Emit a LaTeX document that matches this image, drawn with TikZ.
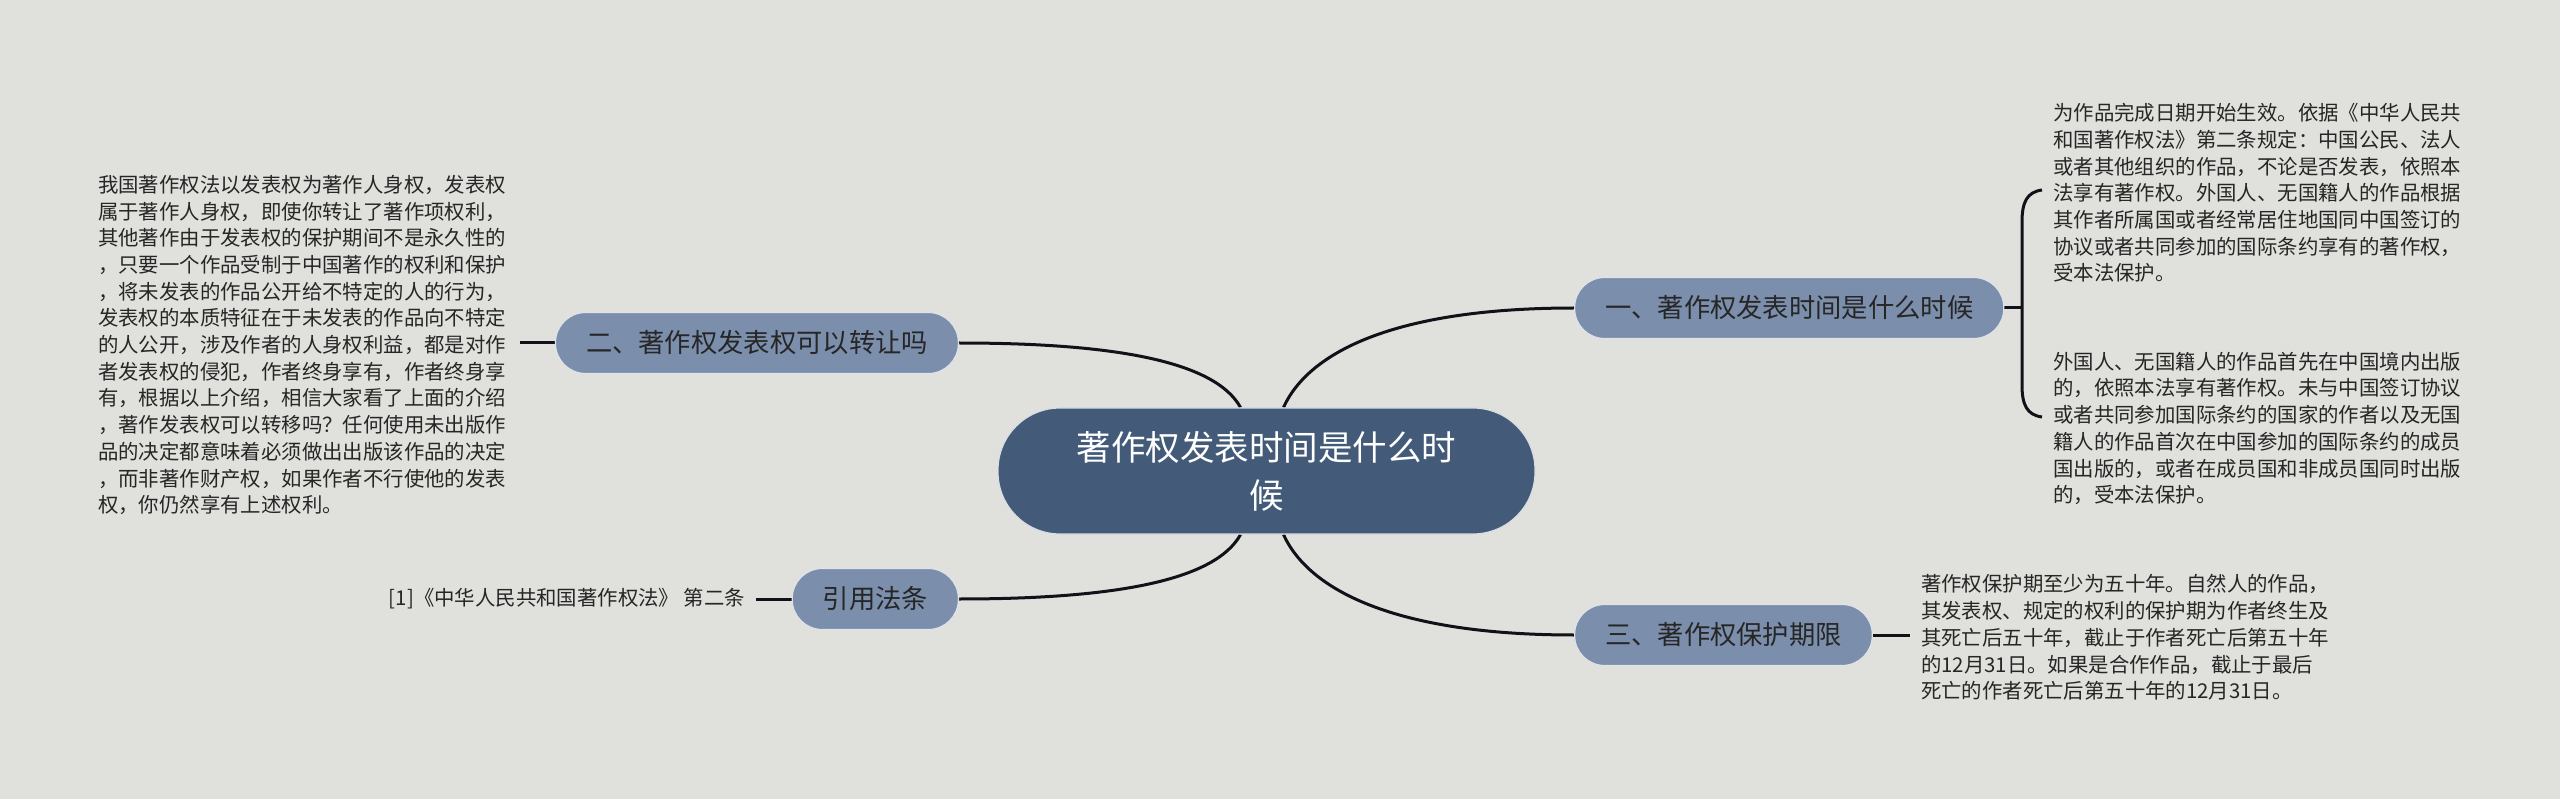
\documentclass[tikz,border=0pt]{standalone}
\usepackage{fontspec}
\newfontfamily\cjk{Noto Sans CJK SC}
\usetikzlibrary{backgrounds}
\definecolor{bgcol}{HTML}{E0E1DC}
\definecolor{rootcol}{HTML}{435A78}
\definecolor{branchcol}{HTML}{7B8EAB}
\definecolor{inkcol}{HTML}{262626}
\definecolor{linkcol}{HTML}{111119}

\begin{document}
\begin{tikzpicture}[x=1pt, y=-1pt,
    root/.style={fill=rootcol, draw=white!80!rootcol, line width=1.2pt, rounded corners=62pt,
      minimum width=537pt, minimum height=126pt, align=center, text=white,
      font=\cjk\fontsize{34.5}{48}\selectfont},
    branch/.style={fill=branchcol, draw=white!75!branchcol, line width=1.2pt, rounded corners=30pt,
      minimum height=61pt, inner xsep=30.5pt, text=inkcol,
      font=\cjk\fontsize{26.3}{32}\selectfont},
    body/.style={inner sep=0pt, text width=410pt, align=left, text=inkcol,
      font=\cjk\fontsize{20.4}{26.7}\selectfont},
    note/.style={inner sep=0pt, text=inkcol, font=\cjk\fontsize{20.4}{26.7}\selectfont},
    link/.style={draw=linkcol, line width=3pt}]

    % Canvas
    \begin{scope}[on background layer]
        \fill[bgcol] (0,0) rectangle (2560,799);
    \end{scope}
    \useasboundingbox (0,0) rectangle (2560,799);

    % Central topic
    \node[root] (root) at (1266.5,471) {著作权发表时间是什么时\\候};

    % Branches
    \node[branch, anchor=west] (b1) at (1574,308) {一、著作权发表时间是什么时候};
    \node[branch, anchor=east] (b2) at (959,343) {二、著作权发表权可以转让吗};
    \node[branch, anchor=east] (b3) at (959,599) {引用法条};
    \node[branch, anchor=west] (b4) at (1574,635) {三、著作权保护期限};

    % Texts
    \node[body, anchor=west] (t1) at (2053,193) {为作品完成日期开始生效。依据《中华人民共\\和国著作权法》第二条规定：中国公民、法人\\或者其他组织的作品，不论是否发表，依照本\\法享有著作权。外国人、无国籍人的作品根据\\其作者所属国或者经常居住地国同中国签订的\\协议或者共同参加的国际条约享有的著作权，\\受本法保护。};
    \node[body, anchor=west] (t2) at (2053,428.5) {外国人、无国籍人的作品首先在中国境内出版\\的，依照本法享有著作权。未与中国签订协议\\或者共同参加国际条约的国家的作者以及无国\\籍人的作品首次在中国参加的国际条约的成员\\国出版的，或者在成员国和非成员国同时出版\\的，受本法保护。};
    \node[body, anchor=east, outer xsep=12pt] (t0) at (520,345) {我国著作权法以发表权为著作人身权，发表权\\属于著作人身权，即使你转让了著作项权利，\\其他著作由于发表权的保护期间不是永久性的\\，只要一个作品受制于中国著作的权利和保护\\，将未发表的作品公开给不特定的人的行为，\\发表权的本质特征在于未发表的作品向不特定\\的人公开，涉及作者的人身权利益，都是对作\\者发表权的侵犯，作者终身享有，作者终身享\\有，根据以上介绍，相信大家看了上面的介绍\\，著作发表权可以转移吗？任何使用未出版作\\品的决定都意味着必须做出出版该作品的决定\\，而非著作财产权，如果作者不行使他的发表\\权，你仍然享有上述权利。};
    \node[body, anchor=west, outer xsep=11pt] (t3) at (1910,637.5) {著作权保护期至少为五十年。自然人的作品，\\其发表权、规定的权利的保护期为作者终生及\\其死亡后五十年，截止于作者死亡后第五十年\\的12月31日。如果是合作作品，截止于最后\\死亡的作者死亡后第五十年的12月31日。};
    \node[note, anchor=east, outer xsep=11pt] (law) at (756,599) {[1]《中华人民共和国著作权法》 第二条};

    % Connectors
    \coordinate (brace) at (2022,308);
    \begin{scope}[on background layer]
        \draw[link] ([xshift=17pt]root.north) .. controls +(25,-55) and +(-180,0) .. (b1.west);
        \draw[link] ([xshift=-26pt]root.north) .. controls +(-25,-45) and +(160,0) .. (b2.east);
        \draw[link] ([xshift=-26pt]root.south) .. controls +(-25,45) and +(160,0) .. (b3.east);
        \draw[link] ([xshift=17pt]root.south) .. controls +(25,55) and +(-180,0) .. (b4.west);
        \draw[link] (b2.west) -- (b2.west -| t0.east);
        \draw[link] (b3.west) -- (b3.west -| law.east);
        \draw[link] (b4.east) -- (b4.east -| t3.west);
        \draw[link] (b1.east) -- (brace);
        \draw[link] (2042,190) .. controls (2027,192) and (2022,202) .. (2022,222)
            -- (2022,385) .. controls (2022,405) and (2027,415) .. (2042,417);
    \end{scope}
\end{tikzpicture}
\end{document}
